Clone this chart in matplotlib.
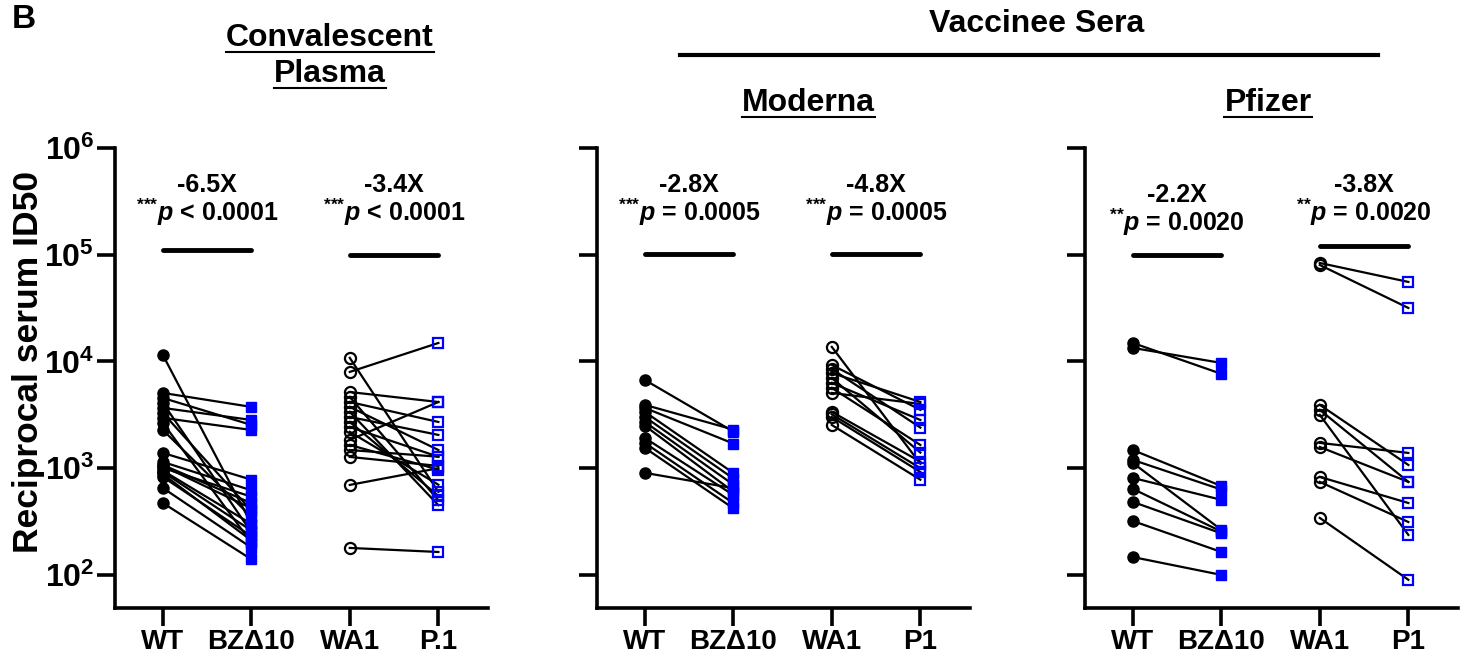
import numpy as np
import matplotlib
matplotlib.use("Agg")
import matplotlib.pyplot as plt
from matplotlib.lines import Line2D
from matplotlib.ticker import NullLocator

plt.rcParams['font.family'] = ['Liberation Sans', 'DejaVu Sans']
plt.rcParams['font.weight'] = 'bold'
plt.rcParams['mathtext.fontset'] = 'custom'
plt.rcParams['mathtext.rm'] = 'Liberation Sans:bold'
plt.rcParams['mathtext.it'] = 'Liberation Sans:italic:bold'
plt.rcParams['mathtext.bf'] = 'Liberation Sans:bold'

# ---- data (reciprocal serum ID50, paired per donor) ----
# convalescent plasma
cp_wt = [11500, 5070, 4550, 4090, 3670, 3290, 2960, 2660, 2280, 1390,
         1145, 1072, 1005, 950, 922, 880, 828, 653, 472, 1050]
cp_bz = [300, 3750, 2540, 250, 2830, 400, 2280, 200, 350, 780,
         620, 470, 540, 300, 260, 210, 230, 180, 140, 420]
cp_wa1 = [10800, 7980, 5170, 4650, 4170, 3750, 3370, 3020, 2710, 2430,
          2190, 1840, 1650, 1480, 1275, 697, 179]
cp_p1 = [600, 14900, 4170, 500, 2710, 1480, 450, 2050, 550, 1280,
         700, 4170, 970, 1280, 1050, 1000, 164]

# Moderna vaccinee sera
mo_wt = [6710, 3920, 3670, 3370, 3020, 2710, 2500, 1920, 1725, 1550, 904]
mo_bz = [2200, 2300, 1700, 900, 800, 700, 600, 560, 470, 420, 650]
mo_wa1 = [13700, 9270, 8500, 7800, 7000, 6290, 5650, 5070, 3370, 3200, 3020, 2540]
mo_p1 = [1100, 3520, 2400, 4170, 1400, 2830, 1650, 4000, 1150, 1000, 920, 780]

# Pfizer vaccinee sera
pf_wt = [14900, 13400, 1480, 1195, 1120, 811, 640, 483, 320, 147]
pf_bz = [7650, 9680, 680, 630, 264, 505, 255, 245, 164, 100]
pf_wa1 = [83700, 80200, 3920, 3520, 3160, 1725, 1580, 828, 744, 342]
pf_p1 = [55600, 31700, 1072, 744, 237, 1390, 744, 472, 313, 90]

cp_labels = ['WT', 'BZ\u039410', 'WA1', 'P.1']
vac_labels = ['WT', 'BZ\u039410', 'WA1', 'P1']

cp_folds = ['-6.5X', '-3.4X']
mo_folds = ['-2.8X', '-4.8X']
pf_folds = ['-2.2X', '-3.8X']
STAR3 = r'$^{{*}{*}{*}}\mathit{p}$'
STAR2 = r'$^{{*}{*}}\mathit{p}$'
cp_pvals = [STAR3 + ' < 0.0001', STAR3 + ' < 0.0001']
mo_pvals = [STAR3 + ' = 0.0005', STAR3 + ' = 0.0005']
pf_pvals = [STAR2 + ' = 0.0020', STAR2 + ' = 0.0020']

W, H = 1465, 662
xpos = [0, 1, 2.11, 3.11]
BLUE = '#0000ff'


def px_axes(left, right, top, bottom):
    return [left / W, 1 - bottom / H, (right - left) / W, (bottom - top) / H]


fig = plt.figure(figsize=(W / 100, H / 100), dpi=100)

panels = [
    (115, cp_wt, cp_bz, cp_wa1, cp_p1, cp_labels, cp_folds, cp_pvals,
     [1.1e5, 1.0e5], [(4.5e5, 2.5e5), (4.5e5, 2.5e5)]),
    (597, mo_wt, mo_bz, mo_wa1, mo_p1, vac_labels, mo_folds, mo_pvals,
     [1.02e5, 1.02e5], [(4.5e5, 2.5e5), (4.5e5, 2.5e5)]),
    (1085, pf_wt, pf_bz, pf_wa1, pf_p1, vac_labels, pf_folds, pf_pvals,
     [1.0e5, 1.22e5], [(3.6e5, 2.0e5), (4.5e5, 2.5e5)]),
]

for i, (left, wt, bz, wa1, p1, labels, folds, pvals, bar_y, txt_y) in enumerate(panels):
    ax = fig.add_axes(px_axes(left, left + 373, 148, 608))
    ax.set_yscale('log')
    ax.set_ylim(10 ** 1.69, 1e6)
    ax.set_xlim(-0.54, 3.67)

    for a, b in zip(wt, bz):
        ax.plot([xpos[0], xpos[1]], [a, b], color='k', lw=1.6, zorder=2)
    for a, b in zip(wa1, p1):
        ax.plot([xpos[2], xpos[3]], [a, b], color='k', lw=1.6, zorder=2)

    ax.plot([xpos[0]] * len(wt), wt, 'o', ms=8, color='k', ls='none', zorder=3)
    ax.plot([xpos[1]] * len(bz), bz, 's', ms=7.5, color=BLUE, ls='none', zorder=3)
    ax.plot([xpos[2]] * len(wa1), wa1, 'o', ms=8, mfc='none', mec='k', mew=1.6,
            ls='none', zorder=3)
    ax.plot([xpos[3]] * len(p1), p1, 's', ms=7.5, mfc='none', mec=BLUE, mew=1.6,
            ls='none', zorder=3)

    # significance bars and labels
    for k, (j0, j1) in enumerate([(0, 1), (2, 3)]):
        ax.plot([xpos[j0], xpos[j1]], [bar_y[k]] * 2, color='k', lw=3.5,
                solid_capstyle='round', clip_on=False)
        xm = (xpos[j0] + xpos[j1]) / 2
        ax.text(xm, txt_y[k][0], folds[k], ha='center', va='center', fontsize=18)
        ax.text(xm, txt_y[k][1], pvals[k], ha='center', va='center', fontsize=18)

    ax.set_yticks([1e2, 1e3, 1e4, 1e5, 1e6])
    ax.yaxis.set_minor_locator(NullLocator())
    if i == 0:
        ax.set_yticklabels([r'$\mathbf{10^{%d}}$' % k for k in range(2, 7)], fontsize=23)
    else:
        ax.set_yticklabels([])
    ax.set_xticks(xpos)
    ax.set_xticklabels(labels, fontsize=20)
    ax.tick_params(axis='both', width=2.6, length=13)
    ax.tick_params(axis='y', pad=2)
    ax.tick_params(axis='x', pad=2)
    for s in ['top', 'right']:
        ax.spines[s].set_visible(False)
    for s in ['left', 'bottom']:
        ax.spines[s].set_linewidth(2.6)

fig.text(29 / W, 1 - 362 / H, 'Reciprocal serum ID50', rotation=90,
         fontsize=25.5, ha='center', va='center')
fig.text(12 / W, 1 - 20 / H, 'B', fontsize=24, va='center')

under = [
    fig.text(330 / W, 1 - 38 / H, 'Convalescent', fontsize=23, ha='center', va='center'),
    fig.text(330 / W, 1 - 74 / H, 'Plasma', fontsize=23, ha='center', va='center'),
    fig.text(808 / W, 1 - 103 / H, 'Moderna', fontsize=23, ha='center', va='center'),
    fig.text(1268 / W, 1 - 103 / H, 'Pfizer', fontsize=23, ha='center', va='center'),
]
fig.text(1037 / W, 1 - 24 / H, 'Vaccinee Sera', fontsize=23, ha='center', va='center')
fig.add_artist(Line2D([680 / W, 1378 / W], [1 - 55 / H] * 2, color='k', lw=3))

fig.canvas.draw()
r = fig.canvas.get_renderer()
for t in under:
    bb = t.get_window_extent(r)
    fig.add_artist(Line2D([bb.x0 / W, bb.x1 / W], [(bb.y0 + 1) / H] * 2,
                          color='k', lw=1.5))

fig.savefig('out.png', dpi=100)
